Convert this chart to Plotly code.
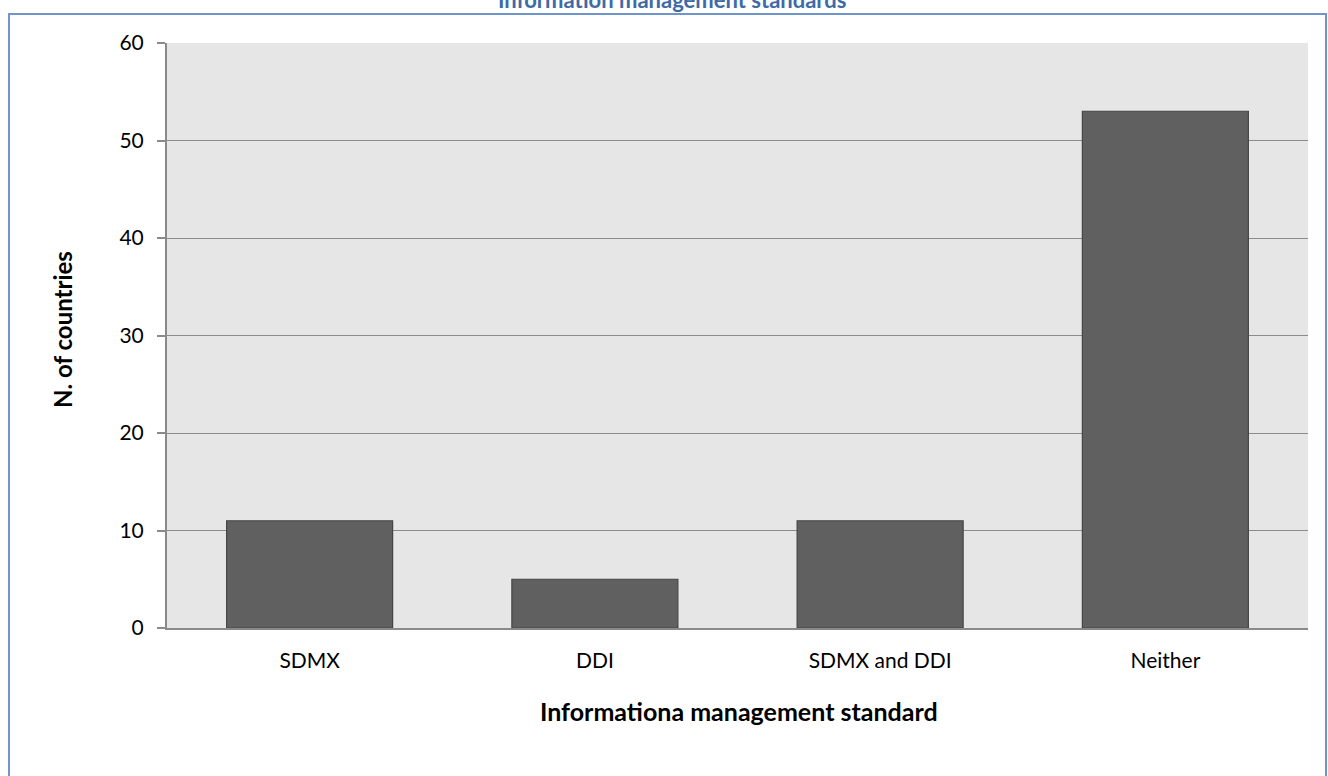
import plotly.graph_objects as go

# Survey results: countries by information management standard
categories = ["SDMX", "DDI", "SDMX and DDI", "Neither"]
n_countries = [11, 5, 11, 53]
y_ticks = [0, 10, 20, 30, 40, 50, 60]

W, H = 1328, 776
L, R, T, B = 167, 20, 43, 148
pw, ph = W - L - R, H - T - B


def px_x(x):
    return (x - L) / pw


def px_y(y):
    return 1 - (y - T) / ph


fig = go.Figure(
    go.Bar(
        x=categories,
        y=n_countries,
        marker=dict(color="#606060", line=dict(color="#454545", width=1.2)),
        hoverinfo="x+y",
    )
)

font = "Lato, Carlito, 'Open Sans', sans-serif"

fig.update_layout(
    width=W,
    height=H,
    margin=dict(l=L, r=R, t=T, b=B),
    paper_bgcolor="white",
    plot_bgcolor="#E6E6E6",
    bargap=0.418,
    showlegend=False,
    font=dict(family=font, size=21, color="black"),
    xaxis=dict(
        showgrid=False,
        showline=True,
        linecolor="#8a8a8a",
        linewidth=2,
        ticks="",
        tickfont=dict(size=21),
        ticklabelstandoff=13,
    ),
    yaxis=dict(
        range=[0, 60],
        tickvals=y_ticks,
        showgrid=True,
        gridcolor="#8c8c8c",
        gridwidth=1.3,
        zeroline=False,
        showline=True,
        linecolor="#8a8a8a",
        linewidth=2,
        ticks="outside",
        ticklen=8,
        tickcolor="#8a8a8a",
        tickwidth=1.5,
        tickfont=dict(size=21),
        ticklabelstandoff=9,
    ),
    shapes=[
        dict(
            type="rect",
            xref="paper",
            yref="paper",
            x0=px_x(9),
            x1=px_x(1326),
            y0=px_y(14),
            y1=px_y(800),
            line=dict(color="#6f95cc", width=2),
            fillcolor="rgba(0,0,0,0)",
            layer="below",
        )
    ],
    annotations=[
        dict(
            text="<b>Information management standards</b>",
            xref="paper",
            yref="paper",
            x=px_x(672),
            y=px_y(15),
            xanchor="center",
            yanchor="bottom",
            showarrow=False,
            font=dict(size=22, color="#3e6aa6", family=font),
        ),
        dict(
            text="<b>Informationa management standard</b>",
            xref="paper",
            yref="paper",
            x=px_x(739),
            y=px_y(711),
            xanchor="center",
            yanchor="middle",
            showarrow=False,
            font=dict(size=25, color="black", family=font),
        ),
        dict(
            text="<b>N. of countries</b>",
            xref="paper",
            yref="paper",
            x=px_x(62),
            y=px_y(330),
            xanchor="center",
            yanchor="middle",
            textangle=-90,
            showarrow=False,
            font=dict(size=24, color="black", family=font),
        ),
    ],
)

fig.write_html("out.html")
